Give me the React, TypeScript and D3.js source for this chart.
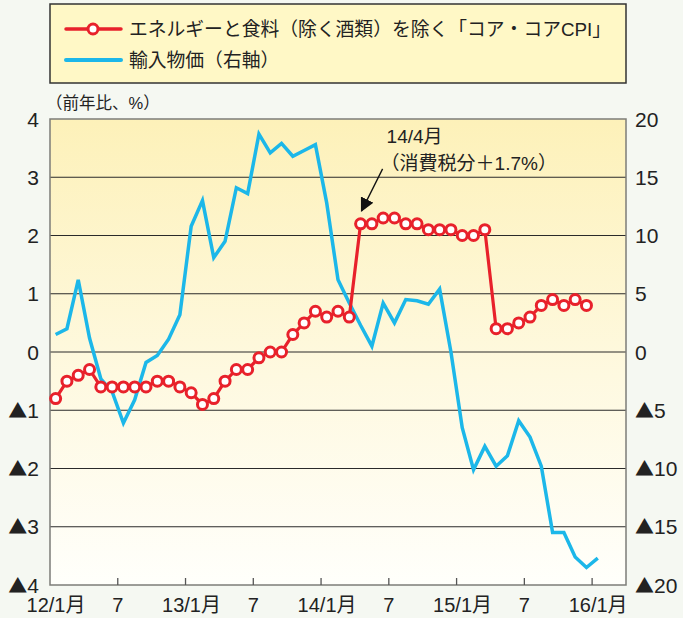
import React, { useEffect, useRef } from 'react';
import * as d3 from 'd3';

// months counted from 2012/1 (index 0)
const coreCoreCpi = [
  -0.8, -0.5, -0.4, -0.3, -0.6, -0.6, -0.6, -0.6, -0.6, -0.5, -0.5, -0.6,
  -0.7, -0.9, -0.8, -0.5, -0.3, -0.3, -0.1, 0.0, 0.0, 0.3, 0.5, 0.7,
  0.6, 0.7, 0.6, 2.2, 2.2, 2.3, 2.3, 2.2, 2.2, 2.1, 2.1, 2.1,
  2.0, 2.0, 2.1, 0.4, 0.4, 0.5, 0.6, 0.8, 0.9, 0.8, 0.9, 0.8,
];

const importPrices = [
  1.5, 2.0, 6.2, 1.2, -2.3, -3.4, -6.1, -4.1, -0.9, -0.3, 1.1, 3.2,
  10.8, 13.0, 8.1, 9.5, 14.1, 13.6, 18.7, 17.1, 17.9, 16.8, 17.3, 17.8,
  12.8, 6.2, 4.2, 2.3, 0.5, 4.2, 2.5, 4.5, 4.4, 4.1, 5.4, 0.0,
  -6.5, -10.1, -8.1, -9.8, -8.9, -5.9, -7.3, -9.8, -15.5, -15.5, -17.6, -18.5,
  -17.7,
];

const xTickMonths = [0, 6, 12, 18, 24, 30, 36, 42, 48];
const xTickLabels = ['12/1月', '7', '13/1月', '7', '14/1月', '7', '15/1月', '7', '16/1月'];
const leftTicks = [4, 3, 2, 1, 0, -1, -2, -3, -4];
const rightTicks = [20, 15, 10, 5, 0, -5, -10, -15, -20];

const legendLabels = ['エネルギーと食料（除く酒類）を除く「コア・コアCPI」', '輸入物価（右軸）'];
const unitLabel = '（前年比、%）';
const noteLines = ['14/4月', '（消費税分＋1.7%）'];
const noteMonth = 27;

const RED = '#e8212b';
const BLUE = '#1cb7e9';
const FONT = '"Liberation Sans", "Noto Sans CJK JP", sans-serif';
const CJK = '"Noto Sans CJK JP", sans-serif';

const App: React.FC = () => {
  const svgRef = useRef<SVGSVGElement>(null);

  useEffect(() => {
    if (!svgRef.current) return;
    const svg = d3.select(svgRef.current);
    svg.selectAll('*').remove();

    const width = 683;
    const height = 618;
    const margin = { top: 119, right: 57, bottom: 33, left: 50 };
    const x0 = margin.left;
    const x1 = width - margin.right;
    const y0 = margin.top;
    const y1 = height - margin.bottom;

    const x = d3.scaleLinear().domain([0, 51]).range([x0, x1]);
    const yL = d3.scaleLinear().domain([-4, 4]).range([y1, y0]);
    const yR = d3.scaleLinear().domain([-20, 20]).range([y1, y0]);

    svg.append('rect').attr('width', width).attr('height', height).attr('fill', '#f5f8f2');

    const defs = svg.append('defs');
    const grad = defs.append('linearGradient').attr('id', 'bg').attr('x1', 0).attr('y1', 0).attr('x2', 0).attr('y2', 1);
    grad.append('stop').attr('offset', '0%').attr('stop-color', '#fdf1b9');
    grad.append('stop').attr('offset', '55%').attr('stop-color', '#fef9e0');
    grad.append('stop').attr('offset', '100%').attr('stop-color', '#fffffb');

    defs.append('marker')
      .attr('id', 'arrow')
      .attr('viewBox', '0 0 10 10')
      .attr('refX', 9).attr('refY', 5)
      .attr('markerWidth', 14).attr('markerHeight', 14)
      .attr('markerUnits', 'userSpaceOnUse')
      .attr('orient', 'auto')
      .append('path').attr('d', 'M0,0L10,5L0,10Z').attr('fill', '#111');

    // legend
    svg.append('rect')
      .attr('x', 50).attr('y', 4).attr('width', 576).attr('height', 79)
      .attr('fill', '#fff8c6').attr('stroke', '#333').attr('stroke-width', 1.5);
    const lg = svg.append('g');
    lg.append('line').attr('x1', 66).attr('x2', 121).attr('y1', 29).attr('y2', 29)
      .attr('stroke', RED).attr('stroke-width', 3.5).attr('stroke-linecap', 'round');
    lg.append('circle').attr('cx', 93).attr('cy', 29).attr('r', 5)
      .attr('fill', '#fff').attr('stroke', RED).attr('stroke-width', 3);
    lg.append('line').attr('x1', 66).attr('x2', 121).attr('y1', 60).attr('y2', 60)
      .attr('stroke', BLUE).attr('stroke-width', 4).attr('stroke-linecap', 'round');
    lg.selectAll('text.leg')
      .data(legendLabels)
      .enter()
      .append('text')
      .attr('x', 129)
      .attr('y', (d, i) => 36 + i * 31)
      .attr('font-size', 18.8)
      .attr('fill', '#222')
      .attr('font-family', FONT)
      .text(d => d);

    // plot area
    svg.append('rect')
      .attr('x', x0).attr('y', y0).attr('width', x1 - x0).attr('height', y1 - y0)
      .attr('fill', 'url(#bg)');

    svg.append('g')
      .selectAll('line')
      .data(leftTicks.filter(v => v > -4 && v < 4))
      .enter()
      .append('line')
      .attr('x1', x0).attr('x2', x1)
      .attr('y1', d => yL(d)).attr('y2', d => yL(d))
      .attr('stroke', '#2a2a2a').attr('stroke-width', 1.2);

    svg.append('rect')
      .attr('x', x0).attr('y', y0).attr('width', x1 - x0).attr('height', y1 - y0)
      .attr('fill', 'none').attr('stroke', '#7c7c78').attr('stroke-width', 1.5);

    // x ticks (inward)
    svg.append('g')
      .selectAll('line')
      .data(xTickMonths.slice(1))
      .enter()
      .append('line')
      .attr('x1', d => x(d)).attr('x2', d => x(d))
      .attr('y1', y1).attr('y2', y1 - 7)
      .attr('stroke', '#555').attr('stroke-width', 1.3);

    svg.append('g')
      .selectAll('text')
      .data(xTickMonths)
      .enter()
      .append('text')
      .attr('x', d => x(d))
      .attr('dx', (d, i) => (xTickLabels[i].length > 1 ? 6 : 0))
      .attr('y', 612)
      .attr('text-anchor', 'middle')
      .attr('font-size', 20)
      .attr('font-family', FONT)
      .attr('fill', '#222')
      .text((d, i) => xTickLabels[i]);

    // tick label with a big ▲ for negative values
    const addLabel = (sel: d3.Selection<SVGTextElement, number, SVGGElement, unknown>) => {
      sel.each(function (d) {
        const t = d3.select(this);
        if (d < 0) {
          t.append('tspan').attr('font-family', CJK).attr('font-size', 19).attr('dx', 0).text('▲');
        }
        t.append('tspan').text(String(Math.abs(d)));
      });
    };

    svg.append('g')
      .selectAll('text')
      .data(leftTicks)
      .enter()
      .append('text')
      .attr('x', 39)
      .attr('y', d => yL(d))
      .attr('dy', '0.36em')
      .attr('text-anchor', 'end')
      .attr('font-size', 21)
      .attr('font-family', FONT)
      .attr('fill', '#222')
      .call(addLabel);

    svg.append('g')
      .selectAll('text')
      .data(rightTicks)
      .enter()
      .append('text')
      .attr('x', 635)
      .attr('y', d => yR(d))
      .attr('dy', '0.36em')
      .attr('font-size', 21)
      .attr('font-family', FONT)
      .attr('fill', '#222')
      .call(addLabel);

    svg.append('text')
      .attr('x', 46).attr('y', 109)
      .attr('font-size', 16.5)
      .attr('font-family', FONT)
      .attr('fill', '#222')
      .text(unitLabel);

    // import prices (right axis)
    const blueLine = d3.line<number>()
      .x((d, i) => x(i + 0.5))
      .y(d => yR(d));
    svg.append('path')
      .datum(importPrices)
      .attr('d', blueLine)
      .attr('fill', 'none')
      .attr('stroke', BLUE)
      .attr('stroke-width', 3.5)
      .attr('stroke-linejoin', 'miter');

    // core-core CPI (left axis)
    const redLine = d3.line<number>()
      .x((d, i) => x(i + 0.5))
      .y(d => yL(d));
    svg.append('path')
      .datum(coreCoreCpi)
      .attr('d', redLine)
      .attr('fill', 'none')
      .attr('stroke', RED)
      .attr('stroke-width', 3.2);
    svg.append('g')
      .selectAll('circle')
      .data(coreCoreCpi)
      .enter()
      .append('circle')
      .attr('cx', (d, i) => x(i + 0.5))
      .attr('cy', d => yL(d))
      .attr('r', 5)
      .attr('fill', '#fff')
      .attr('stroke', RED)
      .attr('stroke-width', 3);

    // annotation
    const tipX = x(noteMonth + 0.5);
    const tipY = yL(coreCoreCpi[noteMonth]) - 13;
    svg.append('line')
      .attr('x1', tipX + 22).attr('y1', tipY - 42)
      .attr('x2', tipX + 1).attr('y2', tipY)
      .attr('stroke', '#111').attr('stroke-width', 1.3)
      .attr('marker-end', 'url(#arrow)');
    svg.append('g')
      .selectAll('text')
      .data(noteLines)
      .enter()
      .append('text')
      .attr('x', (d, i) => tipX + (i === 0 ? 26 : 20))
      .attr('y', (d, i) => 143 + i * 27)
      .attr('font-size', 19)
      .attr('font-family', FONT)
      .attr('fill', '#222')
      .text(d => d);
  }, []);

  return (
    <svg
      ref={svgRef}
      width={683}
      height={618}
      style={{ position: 'absolute', left: 0, top: 0, display: 'block' }}
    />
  );
};

export default App;
